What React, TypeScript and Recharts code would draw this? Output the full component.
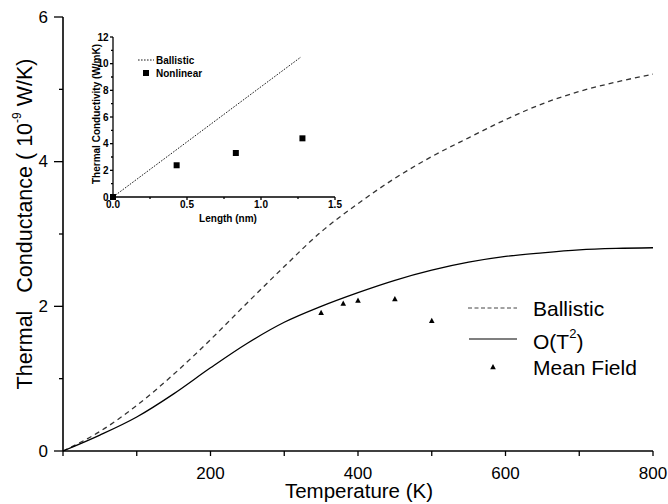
import React from 'react';
import { ComposedChart, Line, Scatter, XAxis, YAxis, Legend } from 'recharts';

// main plot: thermal conductance vs temperature
const temps = [0, 50, 100, 150, 200, 250, 300, 350, 400, 450, 500, 550, 600, 650, 700, 750, 800];
const ballistic = [0, 0.27, 0.63, 1.06, 1.54, 2.05, 2.55, 3.03, 3.42, 3.77, 4.07, 4.33, 4.58, 4.8, 4.97, 5.1, 5.21];
const orderT2 = [0, 0.22, 0.47, 0.79, 1.15, 1.49, 1.78, 2.0, 2.19, 2.36, 2.5, 2.61, 2.69, 2.74, 2.78, 2.8, 2.81];
const meanFieldT = [350, 380, 400, 450, 500];
const meanField = [1.91, 2.04, 2.08, 2.1, 1.8];
const tempTicks = [0, 100, 200, 300, 400, 500, 600, 700, 800];
const condTicks = [0, 1, 2, 3, 4, 5, 6];

// inset: conductivity vs length
const insetLength = [0, 1.27];
const insetBallistic = [0, 10.5];
const nonlinearLength = [0, 0.43, 0.83, 1.28];
const nonlinear = [0, 2.38, 3.3, 4.4];
const lengthTicks = [0, 0.25, 0.5, 0.75, 1, 1.25, 1.5];
const kappaTicks = [0, 1, 2, 3, 4, 5, 6, 7, 8, 9, 10, 11, 12];

const mainData = temps.map((t, i) => ({ t, ballistic: ballistic[i], ot2: orderT2[i] }));
const mfData = meanFieldT.map((t, i) => ({ t, mf: meanField[i] }));
const insetData = insetLength.map((len, i) => ({ len, k: insetBallistic[i] }));
const nlData = nonlinearLength.map((len, i) => ({ len, nl: nonlinear[i] }));

const FONT = '"Liberation Sans", Arial, sans-serif';

type Side = 'left' | 'right' | 'top' | 'bottom';

// ticks drawn by hand so major/minor can differ; tickSize=0 puts x,y on the axis line
// gap: left = space between tick and label end, bottom = axis to text baseline
const makeTick = (side: Side, len: (v: number) => number, label: ((v: number) => string | null) | null, fontSize = 17, bold = false, gap = 5) =>
  (props: any) => {
    const { x, y, payload } = props;
    const v = payload.value;
    const l = len(v);
    const txt = label ? label(v) : null;
    let ln: React.ReactNode;
    let tx: React.ReactNode = null;
    const common = { fontSize, fontFamily: FONT, fontWeight: bold ? 'bold' : 'normal', fill: '#000' } as any;
    if (side === 'left') {
      ln = <line x1={x - l} x2={x} y1={y} y2={y} stroke="#000" strokeWidth={1.3} />;
      if (txt) tx = <text x={x - Math.max(l, 0) - gap} y={y} textAnchor="end" dominantBaseline="central" {...common}>{txt}</text>;
    } else if (side === 'right') {
      ln = <line x1={x} x2={x + l} y1={y} y2={y} stroke="#000" strokeWidth={1} />;
    } else if (side === 'bottom') {
      ln = <line x1={x} x2={x} y1={y} y2={y + l} stroke="#000" strokeWidth={1.3} />;
      if (txt) tx = <text x={x} y={y + gap} textAnchor="middle" {...common}>{txt}</text>;
    } else {
      ln = <line x1={x} x2={x} y1={y} y2={y - l} stroke="#000" strokeWidth={1} />;
    }
    return <g>{ln}{tx}</g>;
  };

const mainBottom = makeTick('bottom', () => 5, (v) => (v > 0 && v % 200 === 0 ? String(v) : null), 17, false, 27.5);
const mainLeft = makeTick('left', (v) => (v % 2 === 0 ? 9 : 4), (v) => (v % 2 === 0 ? String(v) : null), 17, false, 6);
const mainTop = makeTick('top', () => 2, null);
const mainRight = makeTick('right', () => 2, null);

const insetBottom = makeTick('bottom', (v) => (Math.round(v * 2) === v * 2 ? 3 : 2), (v) => (Math.round(v * 2) === v * 2 ? v.toFixed(1) : null), 10, true, 11);
const insetLeft = makeTick('left', (v) => (v % 2 === 0 ? 3 : 2), (v) => (v % 2 === 0 ? String(v) : null), 10, true, 1.5);
const insetTop = makeTick('top', () => -3, null);
const insetRight = makeTick('right', () => -3, null);

const Triangle = (p: any) => {
  const { cx, cy } = p;
  return <polygon points={`${cx},${cy - 3} ${cx - 2.8},${cy + 2.2} ${cx + 2.8},${cy + 2.2}`} fill="#000" />;
};

const Square = (p: any) => {
  const { cx, cy } = p;
  return <rect x={cx - 3} y={cy - 3} width={6} height={6} fill="#000" />;
};

const MainLegend = (props: any) => {
  const items: any[] = props.payload || [];
  const rowY: Record<string, number> = { ballistic: 18, ot2: 49, mf: 77 };
  return (
    <svg width={210} height={95} style={{ overflow: 'visible' }}>
      {items.map((it) => {
        const y = rowY[it.dataKey] ?? 0;
        let sym: React.ReactNode;
        if (it.dataKey === 'ballistic') sym = <line x1={8} x2={57} y1={y} y2={y} stroke="#444" strokeWidth={1} strokeDasharray="4 2.5" />;
        else if (it.dataKey === 'ot2') sym = <line x1={9} x2={57} y1={y} y2={y} stroke="#000" strokeWidth={1.2} />;
        else sym = <Triangle cx={33} cy={y} />;
        return (
          <g key={it.dataKey}>
            {sym}
            <text x={73} y={it.dataKey === 'ot2' ? y + 2 : y} dominantBaseline="central" fontSize={21} fontFamily={FONT} fill="#000">
              {it.dataKey === 'ot2' ? (
                <>O(T<tspan dy={-8} fontSize={13}>2</tspan><tspan dy={8}>)</tspan></>
              ) : it.value}
            </text>
          </g>
        );
      })}
    </svg>
  );
};

const InsetLegend = (props: any) => {
  const items: any[] = props.payload || [];
  return (
    <svg width={90} height={30} style={{ overflow: 'visible' }}>
      {items.map((it, i) => {
        const y = i === 0 ? 7 : 20;
        return (
          <g key={it.dataKey}>
            {it.dataKey === 'k'
              ? <line x1={8} x2={24} y1={y} y2={y} stroke="#000" strokeWidth={0.9} strokeDasharray="1.6 1.4" />
              : <Square cx={16} cy={y} />}
            <text x={26} y={y} dominantBaseline="central" fontSize={10} fontWeight="bold" fontFamily={FONT} fill="#000">{it.value}</text>
          </g>
        );
      })}
    </svg>
  );
};

const axisStroke = { stroke: '#000', strokeWidth: 1.6 };

export default function App() {
  return (
    <div style={{ position: 'absolute', left: 0, top: 0, width: 668, height: 504, background: '#fff' }}>
      <ComposedChart width={668} height={504} data={mainData} margin={{ top: 17, right: 15, bottom: 0, left: 0 }}>
        <XAxis type="number" dataKey="t" domain={[0, 800]} ticks={tempTicks} interval={0} height={53}
          tickSize={0} tickMargin={0} tickLine={false} axisLine={axisStroke} tick={mainBottom}
          label={{
            content: () => (
              <text x={359} y={498} textAnchor="middle" fontSize={20.5} fontFamily={FONT} fill="#000">Temperature (K)</text>
            ),
          }} />
        <XAxis xAxisId="top" orientation="top" type="number" dataKey="t" domain={[0, 800]} ticks={tempTicks} interval={0} height={0}
          tickSize={0} tickMargin={0} tickLine={false} axisLine={axisStroke} tick={mainTop} />
        <YAxis type="number" domain={[0, 6]} ticks={condTicks} interval={0} width={63}
          tickSize={0} tickMargin={0} tickLine={false} axisLine={axisStroke} tick={mainLeft}
          label={{
            content: () => (
              <text x={25} y={224} transform="rotate(-90 25 224)" textAnchor="middle" dominantBaseline="central"
                fontSize={21.5} fontFamily={FONT} fill="#000" style={{ whiteSpace: 'pre' }}>
                Thermal   Conductance ( 10<tspan dy={-8} fontSize={12}>-9</tspan><tspan dy={8}> W/K)</tspan>
              </text>
            ),
          }} />
        <YAxis yAxisId="right" orientation="right" type="number" domain={[0, 6]} ticks={condTicks} interval={0} width={0}
          tickSize={0} tickMargin={0} tickLine={false} axisLine={axisStroke} tick={mainRight} />
        <Line type="monotone" dataKey="ballistic" name="Ballistic" stroke="#333" strokeWidth={1.3} strokeDasharray="5 4"
          dot={false} activeDot={false} isAnimationActive={false} />
        <Line type="monotone" dataKey="ot2" name="O(T2)" stroke="#000" strokeWidth={1.3}
          dot={false} activeDot={false} isAnimationActive={false} />
        <Scatter data={mfData} dataKey="mf" name="Mean Field" fill="#000" shape={Triangle} isAnimationActive={false} />
        <Legend layout="vertical" align="center" verticalAlign="middle" content={MainLegend}
          wrapperStyle={{ left: 460, top: 290, width: 210, height: 95 }} />
      </ComposedChart>

      <div style={{ position: 'absolute', left: 80, top: 25 }}>
        <ComposedChart width={270} height={205} data={insetData} margin={{ top: 12, right: 15, bottom: 0, left: 0 }}>
          <XAxis type="number" dataKey="len" domain={[0, 1.5]} ticks={lengthTicks} interval={0} height={33}
            tickSize={0} tickMargin={0} tickLine={false} axisLine={{ stroke: '#000', strokeWidth: 1.3 }} tick={insetBottom}
            label={{
              content: () => (
                <text x={148} y={197} textAnchor="middle" fontSize={10} fontWeight="bold" fontFamily={FONT} fill="#000">Length (nm)</text>
              ),
            }} />
          <XAxis xAxisId="top" orientation="top" type="number" dataKey="len" domain={[0, 1.5]} ticks={lengthTicks} interval={0} height={0}
            tickSize={0} tickMargin={0} tickLine={false} axisLine={{ stroke: '#000', strokeWidth: 1.3 }} tick={insetTop} />
          <YAxis type="number" domain={[0, 12]} ticks={kappaTicks} interval={0} width={33}
            tickSize={0} tickMargin={0} tickLine={false} axisLine={{ stroke: '#000', strokeWidth: 1.3 }} tick={insetLeft}
            label={{
              content: () => (
                <text x={16} y={89} transform="rotate(-90 16 89)" textAnchor="middle" dominantBaseline="central"
                  fontSize={10} fontWeight="bold" fontFamily={FONT} fill="#000">Thermal Conductivity (W/mK)</text>
              ),
            }} />
          <YAxis yAxisId="right" orientation="right" type="number" domain={[0, 12]} ticks={kappaTicks} interval={0} width={0}
            tickSize={0} tickMargin={0} tickLine={false} axisLine={{ stroke: '#000', strokeWidth: 1.3 }} tick={insetRight} />
          <Line type="linear" dataKey="k" name="Ballistic" stroke="#000" strokeWidth={0.9} strokeDasharray="1.6 1.4"
            dot={false} activeDot={false} isAnimationActive={false} />
          <Scatter data={nlData} dataKey="nl" name="Nonlinear" fill="#000" shape={Square} isAnimationActive={false} />
          <Legend layout="vertical" align="center" verticalAlign="middle" content={InsetLegend}
            wrapperStyle={{ left: 50, top: 28, width: 90, height: 30 }} />
        </ComposedChart>
      </div>
    </div>
  );
}
